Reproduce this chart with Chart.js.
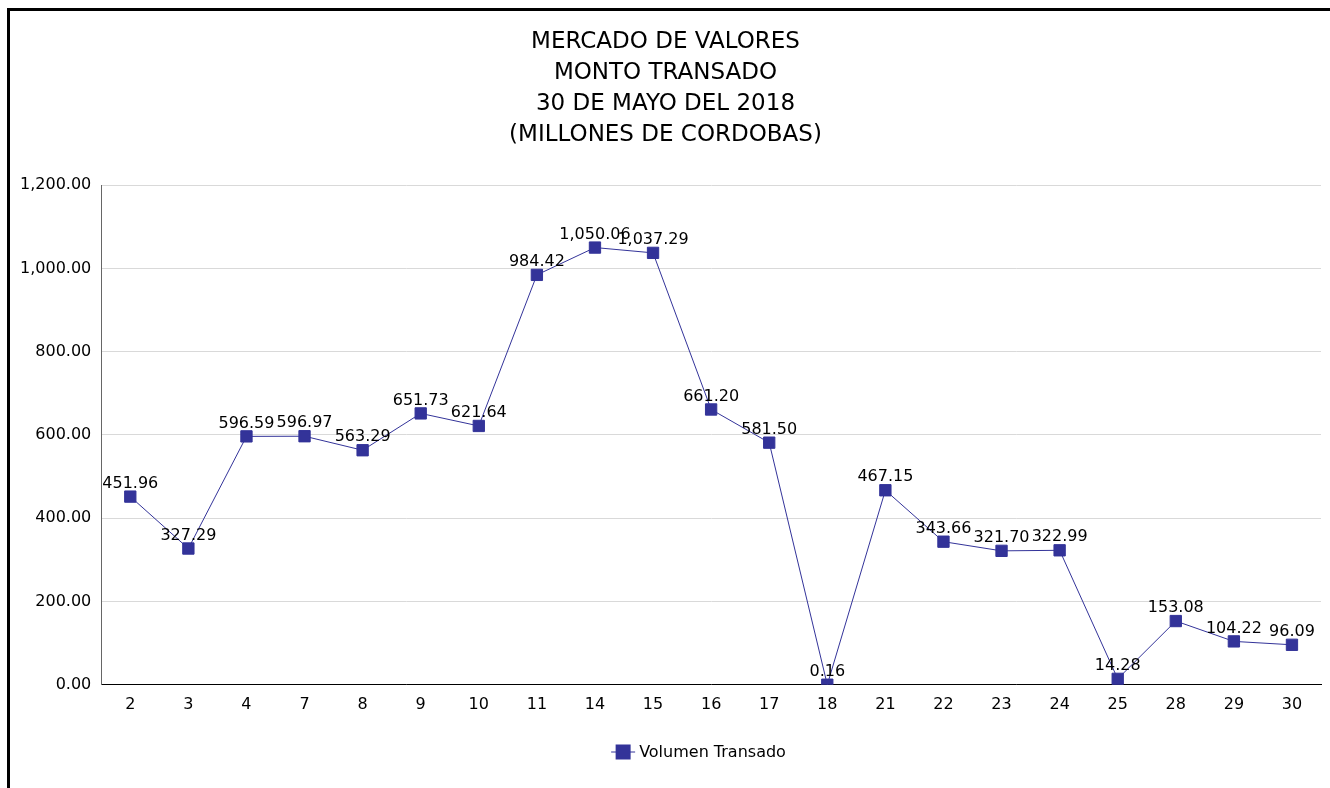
<!DOCTYPE html>
<html>
<head>
<meta charset="utf-8">
<script src="https://cdn.jsdelivr.net/npm/chart.js@4"></script>
<style>
  html, body { margin: 0; padding: 0; background: #fff; overflow: hidden; }
  #frame { position: absolute; left: 7px; top: 8px; width: 1400px; height: 900px;
           border-left: 3px solid #000; border-top: 3px solid #000; }
  #wrap { position: absolute; left: 0; top: 0; width: 1330px; height: 788px; }
</style>
</head>
<body>
<div id="frame"></div>
<div id="wrap"><canvas id="grafico"></canvas></div>
<script>
// dias del mes
const dias = ['2', '3', '4', '7', '8', '9', '10', '11', '14', '15', '16', '17', '18', '21', '22', '23', '24', '25', '28', '29', '30'];
// monto transado (millones de cordobas)
const volumen = [451.96, 327.29, 596.59, 596.97, 563.29, 651.73, 621.64, 984.42, 1050.06, 1037.29, 661.20, 581.50, 0.16, 467.15, 343.66, 321.70, 322.99, 14.28, 153.08, 104.22, 96.09];
const titulo = ['MERCADO DE VALORES', 'MONTO TRANSADO', '30 DE MAYO DEL 2018', '(MILLONES DE CORDOBAS)'];

const fuente = '"DejaVu Sans", sans-serif';
const azul = '#333399';
const fmt = v => v.toLocaleString('en-US', { minimumFractionDigits: 2, maximumFractionDigits: 2 });

// etiquetas encima de cada punto
const etiquetas = {
    id: 'etiquetas',
    afterDatasetsDraw(chart) {
        const ctx = chart.ctx;
        const meta = chart.getDatasetMeta(0);
        ctx.save();
        ctx.font = '16px ' + fuente;
        ctx.fillStyle = '#000';
        ctx.textAlign = 'center';
        ctx.textBaseline = 'bottom';
        meta.data.forEach((pt, i) => {
            ctx.fillText(fmt(chart.data.datasets[0].data[i]), pt.x, pt.y - 5);
        });
        ctx.restore();
    }
};

// leyenda dibujada a mano (cuadro con linea y texto), un poco a la derecha del centro
const leyenda = {
    id: 'leyenda',
    afterDraw(chart) {
        const ctx = chart.ctx;
        const ds = chart.data.datasets[0];
        const cy = chart.height - 36;
        const cx = chart.chartArea.left + (chart.chartArea.right - chart.chartArea.left) / 2 - 88;
        ctx.save();
        ctx.strokeStyle = azul;
        ctx.lineWidth = 1;
        ctx.beginPath();
        ctx.moveTo(cx - 12, cy);
        ctx.lineTo(cx + 12, cy);
        ctx.stroke();
        ctx.fillStyle = azul;
        ctx.fillRect(cx - 7.5, cy - 7.5, 15, 15);
        ctx.fillStyle = '#000';
        ctx.font = '16px ' + fuente;
        ctx.textAlign = 'left';
        ctx.textBaseline = 'middle';
        ctx.fillText(ds.label, cx + 16, cy + 1);
        ctx.restore();
    }
};

new Chart(document.getElementById('grafico'), {
    type: 'line',
    data: {
        labels: dias,
        datasets: [{
            label: 'Volumen Transado',
            data: volumen,
            borderColor: azul,
            backgroundColor: azul,
            borderWidth: 1,
            pointStyle: 'rect',
            pointRadius: 8,
            pointHoverRadius: 8,
            tension: 0
        }]
    },
    options: {
        responsive: true,
        maintainAspectRatio: false,
        animation: false,
        events: [],
        layout: { padding: { top: 26, left: 10, right: 9, bottom: 64 } },
        scales: {
            x: {
                offset: true,
                grid: { display: false, drawTicks: false },
                border: { color: '#000', width: 1 },
                ticks: { color: '#000', font: { family: fuente, size: 16 }, padding: 10 }
            },
            y: {
                min: 0,
                max: 1200,
                grid: { color: '#d9d9d9', drawTicks: false },
                border: { color: '#666', width: 1 },
                ticks: {
                    stepSize: 200,
                    color: '#000',
                    font: { family: fuente, size: 16 },
                    padding: 10,
                    callback: v => fmt(v)
                }
            }
        },
        plugins: {
            title: {
                display: true,
                text: titulo,
                color: '#000',
                font: { family: fuente, size: 23, weight: 'normal', lineHeight: 1.36 },
                padding: { top: 0, bottom: 34 }
            },
            legend: { display: false },
            tooltip: { enabled: false }
        }
    },
    plugins: [etiquetas, leyenda]
});
</script>
</body>
</html>
